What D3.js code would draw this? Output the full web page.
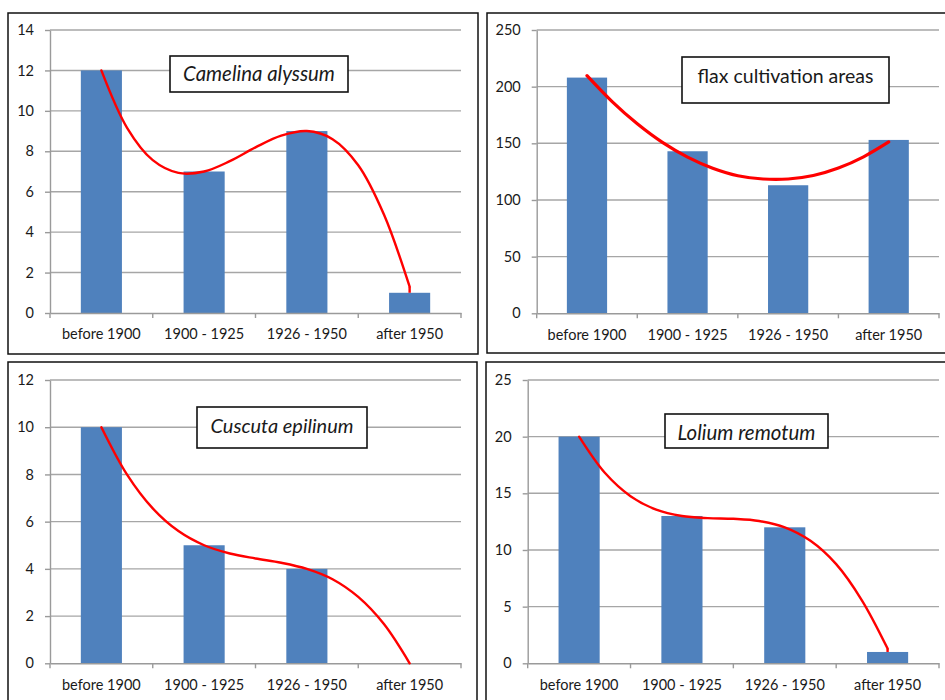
<!DOCTYPE html>
<html>
<head>
<meta charset="utf-8">
<script src="https://cdn.jsdelivr.net/npm/d3@7"></script>
<style>
  html, body { margin: 0; padding: 0; background: #ffffff; }
  svg { display: block; }
  text { font-family: Lato, "Open Sans", "Liberation Sans", sans-serif; fill: #1a1a1a; }
</style>
</head>
<body>
<svg id="chart" width="945" height="700"></svg>
<script>
// ---------------- DATA ----------------
const categories = ["before 1900", "1900 - 1925", "1926 - 1950", "after 1950"];

const camelinaValues = [12, 7, 9, 1];
const flaxValues = [208, 143, 113, 153];
const cuscutaValues = [10, 5, 4, 0];
const loliumValues = [20, 13, 12, 1];

const camelinaTicks = [0, 2, 4, 6, 8, 10, 12, 14];
const flaxTicks = [0, 50, 100, 150, 200, 250];
const cuscutaTicks = [0, 2, 4, 6, 8, 10, 12];
const loliumTicks = [0, 5, 10, 15, 20, 25];

// red trend curves at positions between the first and last category centre
const trendSteps = [0, 0.25, 0.5, 0.75, 1, 1.25, 1.5, 1.75, 2, 2.25, 2.5, 2.75, 3];
const camelinaTrend = [12, 9.16, 7.56, 6.93, 7, 7.51, 8.19, 8.77, 9, 8.6, 7.31, 4.87, 1.3];
const flaxTrend = [209.7, 186.8, 167.2, 150.8, 137.8, 128, 121.4, 118.5, 118.5, 121.6, 128.2, 138.1, 151.2];
const cuscutaTrend = [10, 7.99, 6.56, 5.6, 5, 4.65, 4.44, 4.26, 4, 3.56, 2.81, 1.66, 0];
const loliumTrend = [20, 16.81, 14.75, 13.56, 13, 12.81, 12.75, 12.56, 12, 10.81, 8.75, 5.56, 1.3];
// short vertical end hooks of the hand-drawn curves [from, to]
const camelinaHook = [1.3, 1.0];
const loliumHook = [1.3, 1.0];

const titles = ["Camelina alyssum", "flax cultivation areas", "Cuscuta epilinum", "Lolium remotum"];

// ---------------- LAYOUT ----------------
const panels = [
  { values: camelinaValues, ticks: camelinaTicks, trend: camelinaTrend, hook: camelinaHook, title: titles[0], italic: true,
    frame: [8, 13, 478, 354], plot: [50, 30, 461, 313],
    box: [170, 56, 348, 92], titleW: 152, titleBase: 81, lineW: 2.4 },
  { values: flaxValues, ticks: flaxTicks, trend: flaxTrend, hook: null, title: titles[1], italic: false,
    frame: [487, 13, 960, 353], plot: [536.7, 30, 939, 313.3],
    box: [682, 57, 889, 103], titleW: 176, titleBase: 83, lineW: 3.2 },
  { values: cuscutaValues, ticks: cuscutaTicks, trend: cuscutaTrend, hook: null, title: titles[2], italic: true,
    frame: [8, 362, 477, 720], plot: [50, 380, 461, 663.3],
    box: [197, 407, 367, 448], titleW: 143, titleBase: 433, lineW: 2.4 },
  { values: loliumValues, ticks: loliumTicks, trend: loliumTrend, hook: loliumHook, title: titles[3], italic: true,
    frame: [486, 362, 960, 720], plot: [527.7, 380, 939, 663.3],
    box: [665, 414, 828, 448], titleW: 138, titleBase: 439.5, lineW: 2.4 }
];

const svg = d3.select("#chart");
const barColor = "#4f81bd";
const gridColor = "#a6a6a6";
const axisColor = "#9a9a9a";

panels.forEach(p => {
  const g = svg.append("g");
  const [fx0, fy0, fx1, fy1] = p.frame;
  g.append("rect").attr("x", fx0).attr("y", fy0).attr("width", fx1 - fx0).attr("height", fy1 - fy0)
    .attr("fill", "#fff").attr("stroke", "#111").attr("stroke-width", 1.5);

  const [px0, py0, px1, py1] = p.plot;
  const x = d3.scaleBand().domain(categories).range([px0, px1]).paddingInner(0.6).paddingOuter(0.3);
  const y = d3.scaleLinear().domain([0, d3.max(p.ticks)]).range([py1, py0]);
  const step = x.step();

  // gridlines
  g.append("g").selectAll("line").data(p.ticks.filter(t => t !== 0)).join("line")
    .attr("x1", px0).attr("x2", px1).attr("y1", d => y(d)).attr("y2", d => y(d))
    .attr("stroke", gridColor).attr("stroke-width", 1.4);

  // bars
  g.append("g").selectAll("rect").data(p.values.map((v, i) => ({ c: categories[i], v }))).join("rect")
    .attr("x", d => x(d.c)).attr("width", x.bandwidth())
    .attr("y", d => y(d.v)).attr("height", d => y(0) - y(d.v))
    .attr("fill", barColor);

  // y axis
  const ya = g.append("g").attr("transform", `translate(${px0},0)`)
    .call(d3.axisLeft(y).tickValues(p.ticks).tickSize(5).tickPadding(11).tickSizeOuter(0));
  ya.select(".domain").attr("stroke", axisColor).attr("stroke-width", 1.4);
  ya.selectAll(".tick line").attr("stroke", axisColor).attr("stroke-width", 1.4);
  ya.selectAll(".tick text").attr("font-size", 14.5).attr("fill", "#1a1a1a")
    .style("font-family", "Lato, 'Open Sans', sans-serif");

  // x axis
  const xa = g.append("g").attr("transform", `translate(0,${py1})`)
    .call(d3.axisBottom(x).tickSize(0).tickPadding(16).tickSizeOuter(0));
  xa.select(".domain").attr("stroke", axisColor).attr("stroke-width", 1.4);
  xa.selectAll(".tick text").attr("font-size", 14.5).attr("fill", "#1a1a1a")
    .style("font-family", "Lato, 'Open Sans', sans-serif");
  // category boundary tick marks
  xa.append("g").selectAll("line").data(d3.range(categories.length + 1)).join("line")
    .attr("x1", i => px0 + i * step).attr("x2", i => px0 + i * step)
    .attr("y1", 0).attr("y2", 5).attr("stroke", axisColor).attr("stroke-width", 1.4);

  // trend curve
  const tx = d3.scaleLinear().domain([0, 3])
    .range([x(categories[0]) + x.bandwidth() / 2, x(categories[3]) + x.bandwidth() / 2]);
  const line = d3.line().x((d, i) => tx(trendSteps[i])).y(d => y(d)).curve(d3.curveCatmullRom.alpha(0.5));
  g.append("path").datum(p.trend).attr("d", line)
    .attr("fill", "none").attr("stroke", "#ff0000").attr("stroke-width", p.lineW)
    .attr("stroke-linecap", "round").attr("stroke-linejoin", "round");
  if (p.hook) {
    g.append("line").attr("x1", tx(3)).attr("x2", tx(3))
      .attr("y1", y(p.hook[0])).attr("y2", y(p.hook[1]))
      .attr("stroke", "#ff0000").attr("stroke-width", p.lineW);
  }

  // title box
  const [bx0, by0, bx1, by1] = p.box;
  g.append("rect").attr("x", bx0).attr("y", by0).attr("width", bx1 - bx0).attr("height", by1 - by0)
    .attr("fill", "#fff").attr("stroke", "#111").attr("stroke-width", 1.6);
  const t = g.append("text").attr("x", (bx0 + bx1) / 2).attr("y", p.titleBase)
    .attr("text-anchor", "middle").attr("font-size", 18)
    .style("font-style", p.italic ? "italic" : "normal")
    .style("font-family", "Lato, 'Open Sans', sans-serif")
    .text(p.title);
  const w = t.node().getComputedTextLength();
  t.attr("font-size", 18 * p.titleW / w);
});
</script>
</body>
</html>
